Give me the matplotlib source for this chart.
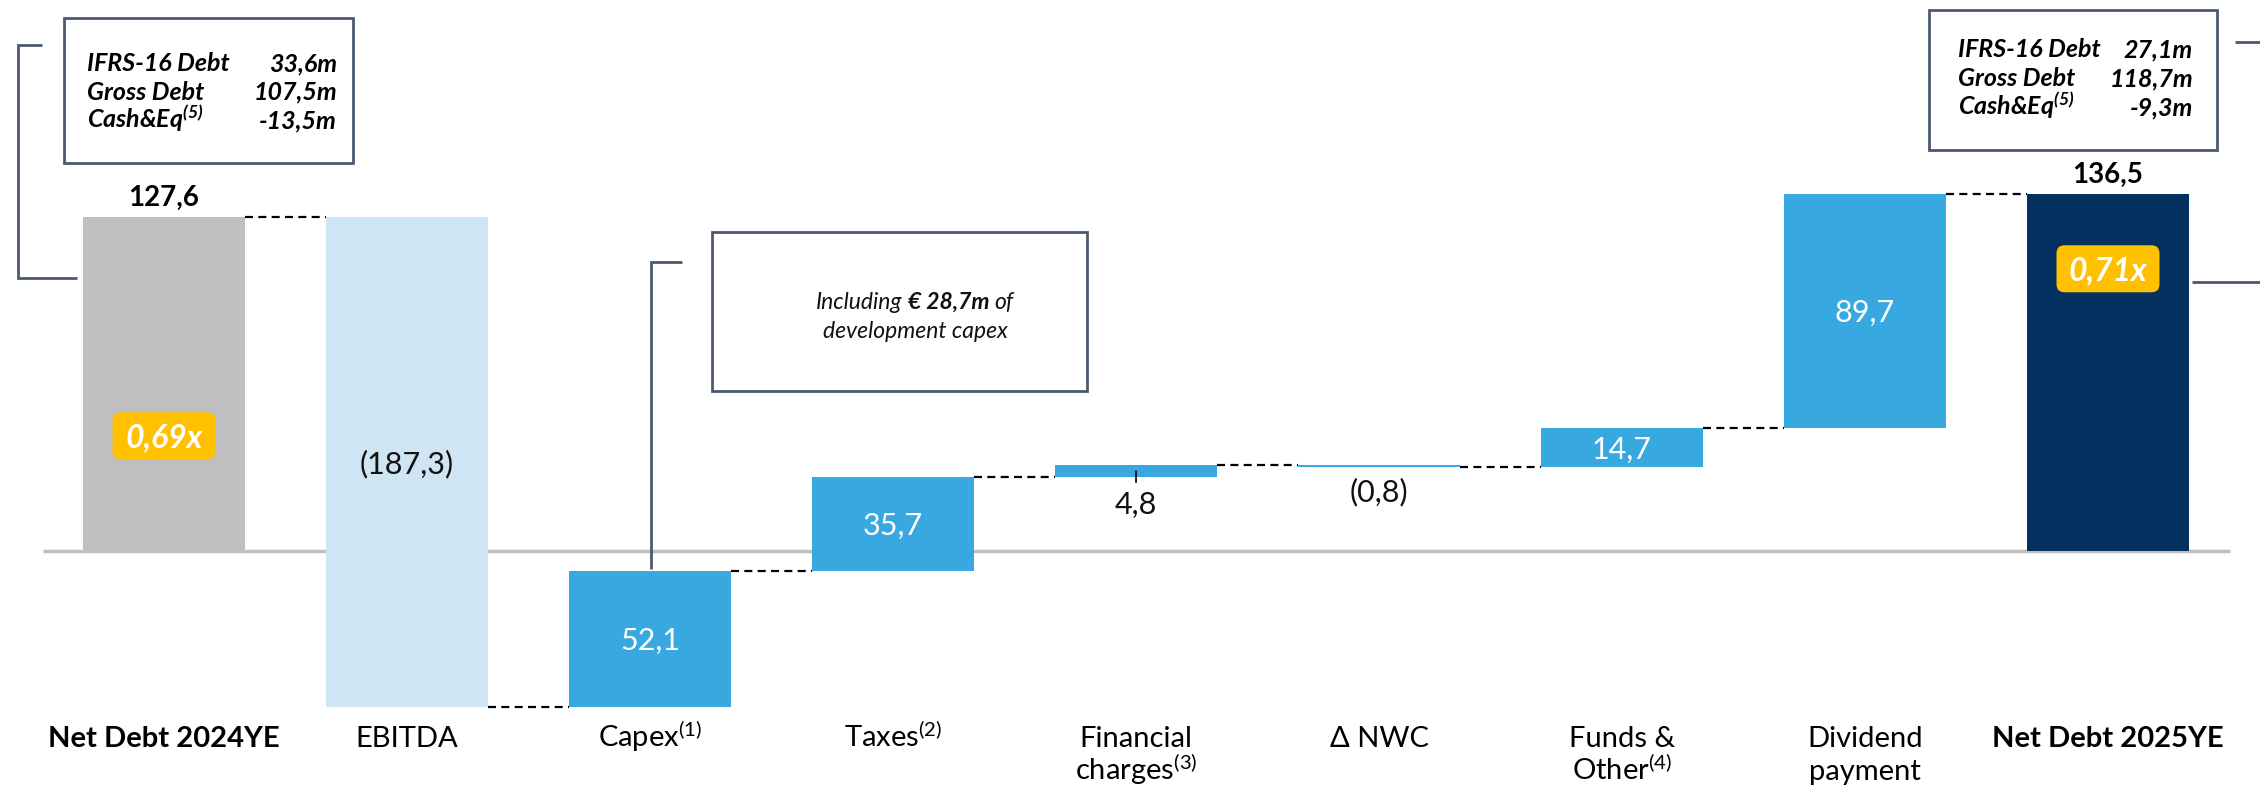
import matplotlib
matplotlib.use("Agg")
import matplotlib.pyplot as plt
import matplotlib.transforms as mtransforms
from matplotlib import font_manager
from matplotlib.patches import Rectangle, FancyBboxPatch
from matplotlib.lines import Line2D

# ---------------- data ----------------
categories = ["Net Debt 2024YE", "EBITDA", "Capex", "Taxes", "Financial\ncharges",
              "Δ NWC", "Funds &\nOther", "Dividend\npayment", "Net Debt 2025YE"]
footnotes = ["", "", "1", "2", "3", "", "4", "", ""]
opening_debt = 127.6
movements = [-187.3, 52.1, 35.7, 4.8, -0.8, 14.7, 89.7]
leverage = ["0,69x", "0,71x"]
breakdown_labels = ["IFRS-16 Debt", "Gross Debt", "Cash&Eq"]
breakdown_2024 = ["33,6m", "107,5m", "-13,5m"]
breakdown_2025 = ["27,1m", "118,7m", "-9,3m"]
capex_note = ["Including", "€ 28,7m", "of"]
capex_note_line2 = "development capex"

# ---------------- style ----------------
names = {f.name for f in font_manager.fontManager.ttflist}
FAMILY = "Lato" if "Lato" in names else "DejaVu Sans"
plt.rcParams["font.family"] = [FAMILY, "DejaVu Sans"]
plt.rcParams["mathtext.fontset"] = "custom"
plt.rcParams["mathtext.rm"] = FAMILY
plt.rcParams["mathtext.it"] = FAMILY + ":italic"
plt.rcParams["mathtext.bf"] = FAMILY + ":bold"
if "mathtext.bfit" in plt.rcParams:
    plt.rcParams["mathtext.bfit"] = FAMILY + ":italic:bold"

GREY = "#BFBFBF"
LIGHT = "#CFE5F3"
BLUE = "#38A9E0"
NAVY = "#03305F"
GOLD = "#FFC000"
SLATE = "#4A5870"

W, H = 2260, 787
fig = plt.figure(figsize=(W / 100, H / 100), dpi=100)
ax = fig.add_axes([0, 0, 1, 1])
ax.set_xlim(-0.675, 8.6255)
ax.set_ylim(-90.2, 210.5)
ax.axis("off")

# pixel coordinates measured from the top-left corner of the figure
pix = mtransforms.Affine2D().scale(1 / W, -1 / H).translate(0, 1) + fig.transFigure
xdata_ypix = mtransforms.blended_transform_factory(ax.transData, pix)

# ---------------- waterfall ----------------
levels = [opening_debt]
for m in movements:
    levels.append(levels[-1] + m)
closing_debt = levels[-1]

n = len(categories)
xs = list(range(n))
bottoms = [0.0] + [min(levels[i], levels[i + 1]) for i in range(len(movements))] + [0.0]
heights = [opening_debt] + [abs(m) for m in movements] + [closing_debt]
colors = [GREY, LIGHT] + [BLUE] * (len(movements) - 1) + [NAVY]
BW = 0.667

ax.plot([-0.5, n - 0.5], [0, 0], color=GREY, lw=2.5, solid_capstyle="butt", zorder=1)
ax.bar(xs, heights, bottom=bottoms, width=BW, color=colors, zorder=3, linewidth=0)

# dashed connectors between consecutive bars
for i in range(n - 1):
    ax.plot([i + BW / 2, i + 1 - BW / 2], [levels[i], levels[i]], color="black",
            lw=1.6, linestyle=(0, (3.6, 2.4)), zorder=2)


def fmt(v):
    s = f"{abs(v):.1f}".replace(".", ",")
    return f"({s})" if v < 0 else s


# totals above the end bars
for x, v in [(0, opening_debt), (n - 1, closing_debt)]:
    ax.annotate(fmt(v), (x, v), xytext=(0, 8), textcoords="offset points",
                ha="center", va="baseline", fontsize=20, fontweight="bold", color="black")

# movement values
for i, m in enumerate(movements):
    x = i + 1
    b = bottoms[x]
    h = heights[x]
    if h < 8:
        off = 26.3 if m > 0 else 25.2
        ax.annotate(fmt(m), (x, b), xytext=(0, -off), textcoords="offset points",
                    ha="center", va="baseline", fontsize=22, color="#111111")
        if m > 0:
            ax.annotate("", (x, b + h * 0.5), xytext=(0, -8), textcoords="offset points",
                        arrowprops=dict(arrowstyle="-", color="#111111", lw=1.3,
                                        shrinkA=0, shrinkB=0), zorder=4)
    else:
        col = "#111111" if i == 0 else "white"
        ax.annotate(fmt(m), (x, b + h / 2), xytext=(0, -8), textcoords="offset points",
                    ha="center", va="baseline", fontsize=22, color=col, zorder=5)

# leverage badges
for x, yv, txt in [(0, 44.0, leverage[0]), (n - 1, 107.8, leverage[1])]:
    tr = fig.dpi_scale_trans + mtransforms.ScaledTranslation(x, yv, ax.transData)
    ax.add_patch(FancyBboxPatch((-0.515, -0.235), 1.03, 0.47,
                                boxstyle="round,pad=0,rounding_size=0.08",
                                fc=GOLD, ec="none", transform=tr, zorder=6))
    ax.annotate(txt, (x, yv), xytext=(0, -8.2), textcoords="offset points",
                ha="center", va="baseline", fontsize=23, fontweight="bold",
                fontstyle="italic", color="white", zorder=7)

# category labels
for x, lab, note in zip(xs, categories, footnotes):
    lines = lab.split("\n")
    if note:
        lines[-1] = lines[-1] + "$^{(" + note + ")}$"
    bold = lab.startswith("Net Debt")
    for k, line in enumerate(lines):
        ax.text(x, 747 + 33 * k, line, transform=xdata_ypix, ha="center", va="baseline",
                fontsize=21, fontweight="bold" if bold else "normal", color="black")

# ---------------- debt breakdown boxes ----------------
def frame(x0, y0, x1, y1):
    fig.add_artist(Rectangle((x0, y0), x1 - x0, y1 - y0, transform=pix, fill=True,
                             fc="white", ec=SLATE, lw=2.0, zorder=8))


def polyline(pts):
    fig.add_artist(Line2D([p[0] for p in pts], [p[1] for p in pts], transform=pix,
                          color=SLATE, lw=2.0, zorder=8, solid_capstyle="butt",
                          solid_joinstyle="miter"))


sup5 = r"$^{\mathbfit{(5)}}$" if "mathtext.bfit" in plt.rcParams else r"$^{(5)}$"
BOX_SIZE = 18


def breakdown(x_left, x_right, baselines, values):
    for lab, val, yb in zip(breakdown_labels, values, baselines):
        txt = lab + sup5 if lab.startswith("Cash") else lab
        fig.text(x_left, yb, txt, transform=pix, ha="left", va="baseline", fontsize=BOX_SIZE,
                 fontweight="bold", fontstyle="italic", color="black", zorder=9)
        fig.text(x_right, yb, val, transform=pix, ha="right", va="baseline", fontsize=BOX_SIZE,
                 fontweight="bold", fontstyle="italic", color="black", zorder=9)


frame(64, 18, 353, 163)
breakdown(87, 337, [71, 99.5, 128], breakdown_2024)
polyline([(42, 45), (18, 45), (18, 278), (77, 278)])

frame(1929, 10, 2217, 150)
breakdown(1958, 2193, [57, 86, 115], breakdown_2025)
polyline([(2235, 42), (2262, 42)])
polyline([(2192, 282), (2262, 282)])

# ---------------- capex note ----------------
frame(712, 232, 1087, 391)
polyline([(682, 262), (651, 262), (651, 569)])

renderer = fig.canvas.get_renderer()
note_size = 16.5
styles = [dict(fontstyle="italic"), dict(fontstyle="italic", fontweight="bold"),
          dict(fontstyle="italic")]
runs = [fig.text(0, 309, s, transform=pix, ha="left", va="baseline", fontsize=note_size,
                 color="#111111", zorder=9, **st) for s, st in zip(capex_note, styles)]
probe_a = fig.text(0, 0, "x x", fontsize=note_size, fontstyle="italic")
probe_b = fig.text(0, 0, "xx", fontsize=note_size, fontstyle="italic")
space = (probe_a.get_window_extent(renderer).width
         - probe_b.get_window_extent(renderer).width)
probe_a.remove()
probe_b.remove()
widths = [t.get_window_extent(renderer).width for t in runs]
total = sum(widths) + space * (len(runs) - 1)
cx = 915
x = cx - total / 2
for t, w in zip(runs, widths):
    t.set_x(x)
    x += w + space
fig.text(cx, 338, capex_note_line2, transform=pix, ha="center", va="baseline",
         fontsize=note_size, fontstyle="italic", color="#111111", zorder=9)

fig.savefig("out.png", dpi=100)
